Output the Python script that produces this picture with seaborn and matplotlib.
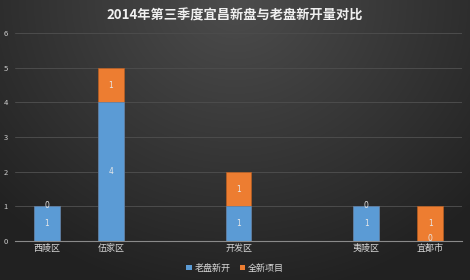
import numpy as np
import matplotlib
matplotlib.use("Agg")
import matplotlib.pyplot as plt
import seaborn as sns
from matplotlib.patches import Patch

sns.set_style("dark")
plt.rcParams['font.family'] = ['Noto Sans CJK SC', 'DejaVu Sans']

title = "2014年第三季度宜昌新盘与老盘新开量对比"
categories = ["西陵区", "伍家区", " ", "开发区", "  ", "夷陵区", "宜都市"]
old_new = [1, 4, None, 1, None, 1, 0]      # 老盘新开
brand_new = [0, 1, None, 1, None, 0, 1]    # 全新项目
series_names = ["老盘新开", "全新项目"]
yticks = [0, 1, 2, 3, 4, 5, 6]

blue = "#5b9bd5"
orange = "#ed7d31"

fig = plt.figure(figsize=(4.7, 2.8), dpi=100)

# background gradient
bg = fig.add_axes([0, 0, 1, 1], zorder=-10)
yy, xx = np.mgrid[0:280, 0:470]
d = np.sqrt(((xx - 235) / 330.0) ** 2 + ((yy - 0) / 300.0) ** 2)
val = np.clip(0.30 - 0.17 * d, 0.13, 0.30)
img = np.dstack([val, val, val])
bg.imshow(img, aspect='auto', extent=[0, 1, 0, 1], origin='upper')
bg.axis('off')

ax = fig.add_axes([0.032, 0.139, 0.951, 0.743])
ax.set_facecolor('none')

tot = [None if a is None else a + b for a, b in zip(old_new, brand_new)]
tot_vals = [np.nan if v is None else v for v in tot]
old_vals = [np.nan if v is None else v for v in old_new]

sns.barplot(x=categories, y=tot_vals, order=categories, color=orange, saturation=1,
            width=0.4, ax=ax, edgecolor="#c0601f", linewidth=0.4)
sns.barplot(x=categories, y=old_vals, order=categories, color=blue, saturation=1,
            width=0.4, ax=ax, edgecolor="#3f7cb8", linewidth=0.4)

lab_kw = dict(ha='center', va='center', fontsize=5.5, color='#e8e8e8', family=['DejaVu Sans'])
for i, (a, b) in enumerate(zip(old_new, brand_new)):
    if a is None:
        continue
    if a > 0:
        ax.text(i, a / 2, str(a), **lab_kw)
    else:
        ax.text(i, 0.07, str(a), **lab_kw)
    if b > 0:
        ax.text(i, a + b / 2, str(b), **lab_kw)
    else:
        ax.text(i, a + 0.04, str(b), **lab_kw)

ax.set_ylim(0, 6)
ax.set_xlim(-0.5, 6.5)
ax.set_yticks(yticks)
ax.set_yticklabels([str(t) for t in yticks], fontsize=5.5, color='#cfcfcf')
ax.tick_params(axis='y', length=0, pad=5)
ax.tick_params(axis='x', length=0, pad=2, labelsize=6.5, labelcolor='#d8d8d8')
ax.grid(axis='y', color='#4c4c4c', linewidth=0.7)
ax.grid(axis='x', visible=False)
ax.set_axisbelow(True)
for s in ['top', 'right', 'left']:
    ax.spines[s].set_visible(False)
ax.spines['bottom'].set_color('#8a8a8a')
ax.spines['bottom'].set_linewidth(0.8)
ax.set_ylabel('')

fig.text(0.5, 0.945, title, ha='center', va='center', fontsize=9.5,
         fontweight='bold', color='#f0f0f0')

handles = [Patch(facecolor=blue, edgecolor='none'), Patch(facecolor=orange, edgecolor='none')]
fig.legend(handles, series_names, loc='center', bbox_to_anchor=(0.5, 0.042), ncol=2,
           frameon=False, fontsize=6.5, labelcolor='#d8d8d8', handlelength=0.6,
           handleheight=0.6, handletextpad=0.3, columnspacing=1.0)

fig.savefig("out.png", dpi=100)
